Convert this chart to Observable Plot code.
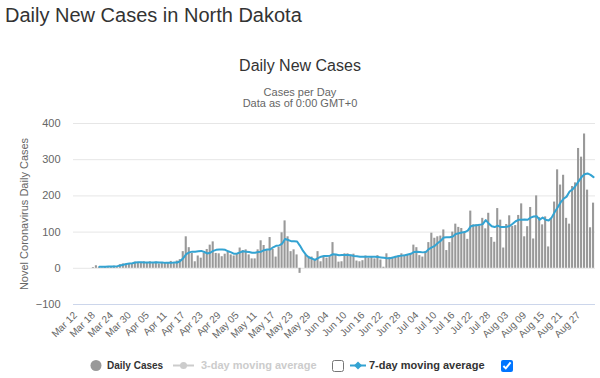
<!DOCTYPE html>
<html>
<head>
<meta charset="utf-8">
<script src="https://cdn.jsdelivr.net/npm/d3@7"></script>
<script src="https://cdn.jsdelivr.net/npm/@observablehq/plot@0.6"></script>
<style>
  html, body { margin: 0; padding: 0; background: #fff; }
  #wrap { position: relative; width: 600px; height: 378px; overflow: hidden; font-family: "Liberation Sans", Arial, sans-serif; }
  .abs { position: absolute; white-space: nowrap; line-height: 1; }
  #title { left: 5px; top: 5px; font-size: 20px; color: #333; }
  #ctitle { left: 0; width: 600px; text-align: center; top: 58px; font-size: 16px; color: #333; }
  .sub { left: 0; width: 600px; text-align: center; font-size: 11px; color: #666; }
  #chart { position: absolute; left: 0; top: 110px; }
  .leg { font-size: 11px; font-weight: bold; color: #333; top: 360px; }
  .cb { position: absolute; margin: 0; width: 12px; height: 12px; }
</style>
</head>
<body>
<div id="wrap">
  <div id="title" class="abs">Daily New Cases in North Dakota</div>
  <div id="ctitle" class="abs">Daily New Cases</div>
  <div class="abs sub" style="top:87px">Cases per Day</div>
  <div class="abs sub" style="top:98px">Data as of 0:00 GMT+0</div>
  <div id="chart"></div>
  <svg class="abs" style="left:0;top:355px" width="600" height="22">
    <circle cx="96" cy="10.5" r="5.5" fill="#999"></circle>
    <line x1="173" x2="194" y1="10.5" y2="10.5" stroke="#ccc" stroke-width="2"></line>
    <circle cx="183.5" cy="10.5" r="3.5" fill="#ccc"></circle>
    <line x1="350" x2="366" y1="10.5" y2="10.5" stroke="#33a3d2" stroke-width="2"></line>
    <path d="M358,6.5 L362,10.5 L358,14.5 L354,10.5 Z" fill="#33a3d2"></path>
  </svg>
  <div class="abs leg" style="left:107px;top:361px;font-size:10px">Daily Cases</div>
  <div class="abs leg" style="left:201px;color:#ccc">3-day moving average</div>
  <input type="checkbox" class="cb" style="left:332px;top:360px">
  <div class="abs leg" style="left:369px">7-day moving average</div>
  <input type="checkbox" class="cb" checked style="left:501px;top:360px">
</div>
<script>
// First day of the series (Mar 12) and number of daily categories shown
const startDay = "2020-03-12";
const dayCount = 174;

// Daily new cases (bars), one per day from Mar 12
const cases = [
  0,0,0,0,0,0,2,7,3,1,
  4,2,5,6,4,10,12,11,13,12,
  17,16,14,18,15,18,13,17,12,16,
  14,16,19,13,20,24,46,87,57,41,
  18,34,28,41,52,64,73,41,40,32,
  39,44,37,34,40,56,49,51,37,26,
  26,51,76,63,49,85,52,31,58,98,
  131,87,46,51,37,-14,0,37,32,31,
  23,46,18,32,28,35,71,37,17,18,
  40,40,36,39,20,18,21,34,28,32,
  26,35,23,3,40,30,27,33,34,40,
  36,36,38,64,57,35,31,46,71,97,
  83,87,89,106,49,71,100,122,113,110,
  99,80,158,120,120,117,138,109,152,85,
  72,165,133,56,121,145,116,118,146,178,
  87,115,168,81,200,140,120,142,59,138,
  183,272,230,257,138,122,226,236,331,307,
  371,216,112,180
];

// 7-day moving average line
const avg7 = [
  null,null,null,null,null,null,null,null,4,4,
  4,5,5,5,6,8,10,12,13,14,
  16,17,17,16,16,16,16,17,16,16,
  15,15,15,16,16,20,28,39,44,46,
  46,47,48,45,41,43,48,51,52,52,
  51,47,44,40,41,44,47,46,45,43,
  43,45,46,50,52,52,58,62,63,68,
  81,78,75,75,74,62,48,37,30,27,
  23,28,32,34,34,35,39,38,36,37,
  37,37,36,34,33,32,32,32,32,32,
  32,31,30,29,28,28,30,32,34,35,
  36,38,40,45,46,45,44,45,53,58,
  62,70,76,85,86,86,88,95,97,99,
  100,104,116,118,119,120,122,133,124,116,
  114,118,114,114,115,117,123,130,134,134,
  135,134,140,143,144,134,140,134,132,140,
  155,168,182,192,198,212,218,228,240,252,
  260,262,258,252
];

// Axis ticks
const yTicks = [-100, 0, 100, 200, 300, 400];
const xTickEvery = 6;

const fmt = d3.utcFormat("%b %d");
const start = new Date(startDay + "T00:00:00Z");
const dates = d3.range(dayCount).map(i => fmt(d3.utcDay.offset(start, i)));
const xTicks = dates.filter((d, i) => i % xTickEvery === 0);

const barData = dates.map((d, i) => ({date: d, cases: cases[i]}));
const lineData = dates.map((d, i) => ({date: d, avg: avg7[i]})).filter(d => d.avg != null);

const chart = Plot.plot({
  width: 600,
  height: 240,
  marginTop: 13,
  marginBottom: 46,
  marginLeft: 73,
  marginRight: 5,
  style: {fontFamily: "'Liberation Sans', Arial, sans-serif", fontSize: "11px", color: "#666", background: "transparent", overflow: "visible"},
  x: {type: "band", domain: dates, padding: 0.3},
  y: {domain: [-100, 400]},
  marks: [
    Plot.ruleY(yTicks.filter(d => d !== -100), {stroke: "#e6e6e6"}),
    Plot.ruleY([-100], {stroke: "#ccd6eb"}),
    Plot.barY(barData, {x: "date", y: "cases", fill: "#999"}),
    Plot.line(lineData, {x: "date", y: "avg", stroke: "#33a3d2", strokeWidth: 2}),
    Plot.axisY({ticks: yTicks, tickSize: 0, tickPadding: 13, label: "Novel Coronavirus Daily Cases", labelAnchor: "center", labelArrow: "none", labelOffset: 53, fontSize: 11}),
    Plot.axisX({ticks: xTicks, tickSize: 0, tickPadding: 9, tickRotate: -45, label: null, fontSize: 10})
  ]
});
document.getElementById("chart").appendChild(chart);
</script>
</body>
</html>
